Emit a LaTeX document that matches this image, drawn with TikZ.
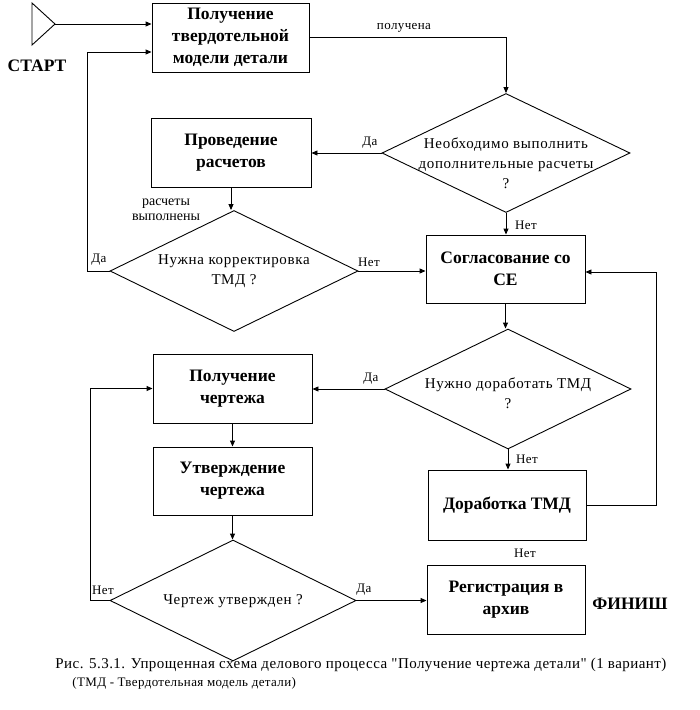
\documentclass[tikz,border=0pt]{standalone}
\usepackage{fontspec}
\setmainfont{Liberation Serif}
\newfontfamily\capfont[Ligatures=TeXOff,LetterSpace=3]{Liberation Serif}
\usetikzlibrary{arrows.meta,shapes.geometric,calc}
\begin{document}
\begin{tikzpicture}[x=1pt,y=-1pt,
  line width=0.9pt,
  arr/.style={-{Triangle[length=6pt,width=5pt]}},
  box/.style={draw,rectangle,inner sep=0pt,align=center,
    font=\fontsize{17.5}{22}\selectfont\bfseries},
  dia/.style={draw,diamond,inner sep=0pt},
  dtext/.style={align=center,font=\fontsize{15}{20}\selectfont\addfontfeatures{LetterSpace=4.5}},
  lbl/.style={font=\fontsize{13}{15}\selectfont\addfontfeatures{LetterSpace=3},inner sep=0pt},
  big/.style={font=\fontsize{17.5}{20}\selectfont\bfseries,inner sep=0pt}]
\useasboundingbox (0,0) rectangle (700,710);

% start triangle
\draw (32,3) -- (32,45) -- (55,24) -- cycle;
\coordinate (st) at (55,24);
\node[big] (start) at (37,66) {СТАРТ};

% boxes
\node[box,minimum width=157pt,minimum height=69pt] (b1) at (230.5,37.5) {Получение\\твердотельной\\модели детали};
\node[box,minimum width=160pt,minimum height=69pt] (b2) at (231,152.5) {Проведение\\расчетов};
\node[box,minimum width=159pt,minimum height=68pt] (b3) at (505.5,269) {Согласование со\\СЕ};
\node[box,minimum width=159pt,minimum height=69pt] (b5) at (232.5,388.5) {Получение\\чертежа};
\node[box,minimum width=159pt,minimum height=68pt] (b6) at (232.5,481) {Утверждение\\чертежа};
\node[box,minimum width=158pt,minimum height=70pt] (b4) at (507,505) {Доработка ТМД};
\node[box,minimum width=158pt,minimum height=69pt] (b7) at (506,599.5) {Регистрация в\\архив};

% diamonds
\node[dia,minimum width=248pt,minimum height=119pt] (d1) at (506,153) {};
\node[dtext] (t1) at (506,163) {Необходимо выполнить\\дополнительные расчеты\\?};
\node[dia,minimum width=248pt,minimum height=121pt] (d2) at (234,271) {};
\node[dtext] (t2) at (234,271) {Нужна корректировка\\ТМД ?};
\node[dia,minimum width=246pt,minimum height=120pt] (d3) at (508,389) {};
\node[dtext] (t3) at (508,393) {Нужно доработать ТМД\\?};
\node[dia,minimum width=246pt,minimum height=121pt] (d4) at (233,600.5) {};
\node[dtext] (t4) at (233,601) {Чертеж утвержден ?};

\node[big] (fin) at (630,604) {ФИНИШ};

% connectors
\draw[arr] (st) -- (st -| b1.west);
\draw[arr] (d2.west) -- ++(-22,0) |- ($(b1.west)+(0,14.5)$);
\draw[arr] (b1.east) -| (d1.north);
\draw[arr] (d1.west) -- (d1.west -| b2.east);
\draw[arr] (b2.south) -- (b2.south |- d2.north);
\draw[arr] (d2.east) -- (d2.east -| b3.west);
\draw[arr] (d1.south) -- (d1.south |- b3.north);
\draw[arr] (b3.south) -- (b3.south |- d3.north);
\draw[arr] (d3.west) -- (d3.west -| b5.east);
\draw[arr] (d3.south) -- (d3.south |- b4.north);
\draw[arr] (b4.east) -- ++(70,0) |- ($(b3.east)+(0,3)$);
\draw[arr] (b5.south) -- (b5.south |- b6.north);
\draw[arr] (b6.south) -- (b6.south |- d4.north);
\draw[arr] (d4.west) -- ++(-19,0) |- (b5.west);
\draw[arr] (d4.east) -- (d4.east -| b7.west);

% labels
\node[lbl] (l1) at (404,28) {получена};
\node[lbl] (l2) at (370,143) {Да};
\node[lbl,align=center,font=\fontsize{14}{15.5}\selectfont] (l3) at (166,210) {расчеты\\выполнены};
\node[lbl] (l4) at (99,260) {Да};
\node[lbl] (l5) at (369,262) {Нет};
\node[lbl] (l6) at (526,225) {Нет};
\node[lbl] (l7) at (371,379) {Да};
\node[lbl] (l8) at (527,459) {Нет};
\node[lbl] (l9) at (525,553) {Нет};
\node[lbl] (l10) at (103,590) {Нет};
\node[lbl] (l11) at (364,590) {Да};

% caption
\node[anchor=west,inner sep=0pt,font=\capfont\fontsize{15}{16}\selectfont] (cap1) at (55,665) {Рис. 5.3.1. Упрощенная схема делового процесса "Получение чертежа детали" (1 вариант)};
\node[anchor=west,inner sep=0pt,font=\capfont\fontsize{13}{14}\selectfont] (cap2) at (72,683) {(ТМД - Твердотельная модель детали)};
\end{tikzpicture}
\end{document}
